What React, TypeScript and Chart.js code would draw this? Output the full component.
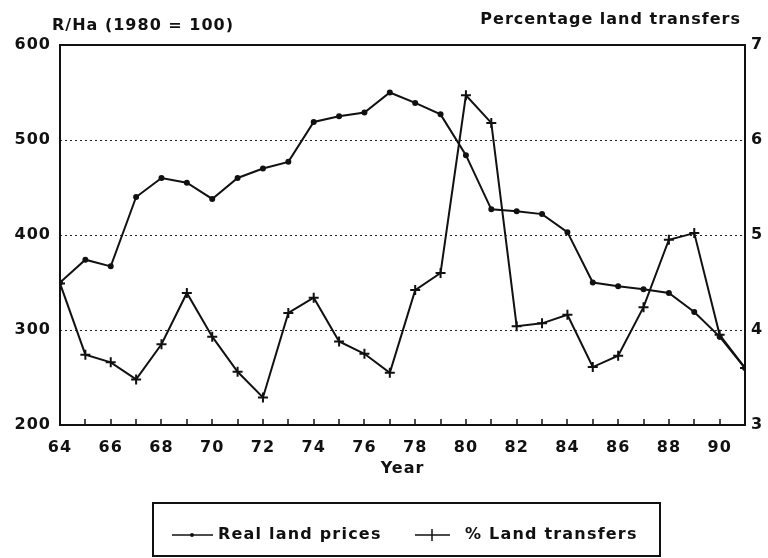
import React, { useEffect, useRef } from "react";
import { Chart, registerables } from "chart.js";

Chart.register(...registerables);

const years = [64, 65, 66, 67, 68, 69, 70, 71, 72, 73, 74, 75, 76, 77, 78, 79, 80, 81, 82, 83, 84, 85, 86, 87, 88, 89, 90, 91];
const realLandPrices = [350, 374, 367, 440, 460, 455, 438, 460, 470, 477, 519, 525, 529, 550, 539, 527, 484, 427, 425, 422, 403, 350, 346, 343, 339, 319, 293, 260];
const landTransfers = [4.49, 3.74, 3.66, 3.48, 3.85, 4.39, 3.93, 3.56, 3.29, 4.18, 4.34, 3.88, 3.75, 3.55, 4.42, 4.6, 6.47, 6.18, 4.04, 4.07, 4.16, 3.61, 3.73, 4.24, 4.95, 5.02, 3.95, 3.6];
const leftTitle = "R/Ha (1980 = 100)";
const rightTitle = "Percentage land transfers";
const xTitle = "Year";
const seriesNames = ["Real land prices", "% Land transfers"];

const FONT = '"DejaVu Sans", "Liberation Sans", sans-serif';

const decor = {
  id: "decor",
  beforeDraw(chart: any) {
    (chart.ctx as any).letterSpacing = "1px";
  },
  beforeDatasetsDraw(chart: any) {
    const { ctx, chartArea: a, scales } = chart;
    ctx.save();
    ctx.strokeStyle = "#222";
    ctx.lineWidth = 1;
    ctx.setLineDash([2, 3]);
    for (const t of scales.y.ticks) {
      if (t.value <= scales.y.min || t.value >= scales.y.max) continue;
      const py = Math.round(scales.y.getPixelForValue(t.value)) + 0.5;
      ctx.beginPath();
      ctx.moveTo(a.left, py);
      ctx.lineTo(a.right, py);
      ctx.stroke();
    }
    ctx.setLineDash([]);
    ctx.strokeStyle = "#111";
    ctx.lineWidth = 2;
    ctx.strokeRect(a.left, a.top, a.right - a.left, a.bottom - a.top);
    ctx.lineWidth = 1.5;
    for (const yr of years) {
      if (yr === years[0] || yr === years[years.length - 1]) continue;
      const px = Math.round(scales.x.getPixelForValue(yr));
      ctx.beginPath();
      ctx.moveTo(px, a.bottom);
      ctx.lineTo(px, a.bottom - 6);
      ctx.stroke();
    }
    ctx.restore();
  },
  afterDraw(chart: any) {
    const { ctx, chartArea: a } = chart;
    ctx.save();
    (ctx as any).letterSpacing = "1px";
    ctx.fillStyle = "#111";
    ctx.font = `bold 16px ${FONT}`;
    ctx.textBaseline = "middle";
    ctx.textAlign = "left";
    ctx.fillText(leftTitle, 52, 26);
    ctx.textAlign = "right";
    ctx.fillText(rightTitle, 741, 20);
    ctx.textAlign = "center";
    ctx.fillText(xTitle, (a.left + a.right) / 2, 469);

    ctx.strokeStyle = "#111";
    ctx.lineWidth = 2;
    ctx.strokeRect(153, 503, 507, 53);
    const ly = 535;
    ctx.lineWidth = 1.5;
    ctx.beginPath();
    ctx.moveTo(172, ly);
    ctx.lineTo(213, ly);
    ctx.stroke();
    ctx.beginPath();
    ctx.arc(192, ly, 2, 0, Math.PI * 2);
    ctx.fill();
    ctx.beginPath();
    ctx.moveTo(415, ly);
    ctx.lineTo(450, ly);
    ctx.moveTo(432, ly - 6);
    ctx.lineTo(432, ly + 6);
    ctx.stroke();
    (ctx as any).letterSpacing = "1.2px";
    ctx.textAlign = "left";
    ctx.fillText(seriesNames[0], 218, ly);
    ctx.fillText(seriesNames[1], 465, ly);
    ctx.restore();
  },
};

export default function App() {
  const ref = useRef<HTMLCanvasElement | null>(null);
  useEffect(() => {
    if (!ref.current) return;
    const tickFont = { family: FONT, size: 16, weight: "bold" as const };
    const chart = new Chart(ref.current, {
      type: "line",
      data: {
        datasets: [
          {
            label: seriesNames[0],
            data: years.map((x, i) => ({ x, y: realLandPrices[i] })),
            yAxisID: "y",
            borderColor: "#111",
            backgroundColor: "#111",
            borderWidth: 2,
            pointRadius: 2,
            pointStyle: "circle",
            tension: 0,
          },
          {
            label: seriesNames[1],
            data: years.map((x, i) => ({ x, y: landTransfers[i] })),
            yAxisID: "y2",
            borderColor: "#111",
            backgroundColor: "#111",
            borderWidth: 2,
            pointRadius: 5,
            pointBorderWidth: 2,
            pointStyle: "cross",
            tension: 0,
          },
        ],
      },
      options: {
        responsive: false,
        animation: false,
        layout: { padding: { top: 45, left: 0, right: 0, bottom: 0 } },
        plugins: { legend: { display: false }, tooltip: { enabled: false }, title: { display: false } },
        scales: {
          x: {
            type: "linear",
            min: 64,
            max: 91,
            afterFit: (s: any) => { s.height = 133; },
            grid: { display: false, drawTicks: false },
            border: { display: false },
            ticks: {
              stepSize: 2,
              includeBounds: false,
              padding: 13,
              color: "#111",
              font: tickFont,
              maxRotation: 0,
              autoSkip: false,
            },
          },
          y: {
            position: "left",
            min: 200,
            max: 600,
            afterFit: (s: any) => { s.width = 60; },
            grid: { display: false, drawTicks: false },
            border: { display: false },
            ticks: { stepSize: 100, padding: 9, color: "#111", font: tickFont },
          },
          y2: {
            position: "right",
            min: 3,
            max: 7,
            afterFit: (s: any) => { s.width = 23; },
            grid: { display: false, drawTicks: false },
            border: { display: false },
            ticks: { stepSize: 1, padding: 6, color: "#111", font: tickFont },
          },
        },
      },
      plugins: [decor],
    });
    return () => chart.destroy();
  }, []);
  return (
    <div style={{ position: "absolute", left: 0, top: 0, width: 768, height: 558, background: "#fff" }}>
      <canvas ref={ref} width={768} height={558} />
    </div>
  );
}
